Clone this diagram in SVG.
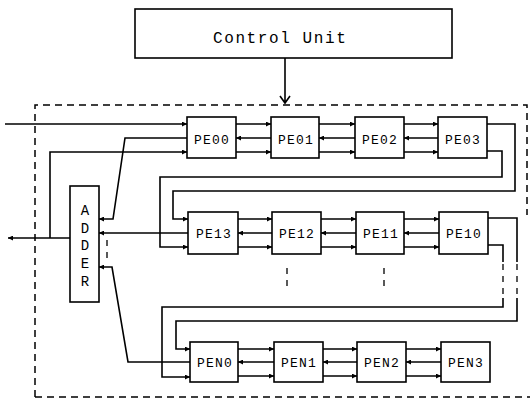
<svg xmlns="http://www.w3.org/2000/svg" width="530" height="400" viewBox="0 0 530 400">
<style>
.ln{stroke:#000;stroke-width:1.6;fill:none}
.box{fill:#fff;stroke:#000;stroke-width:1.6}
.dash{stroke:#000;stroke-width:1.5;fill:none;stroke-dasharray:7 5}
.dot{stroke:#000;stroke-width:1.3;fill:none;stroke-dasharray:6 6}
.lbl{font-family:"Liberation Mono",monospace;font-size:13px;letter-spacing:1.2px;text-anchor:middle;fill:#000}
.cu{font-family:"Liberation Mono",monospace;font-size:16px;letter-spacing:1.6px;fill:#000}
.add{font-family:"Liberation Mono",monospace;font-size:14px;text-anchor:middle;fill:#000}
</style>
<defs>
<marker id="ah" viewBox="0 0 6 6" refX="6" refY="3" markerWidth="6" markerHeight="5" markerUnits="userSpaceOnUse" orient="auto">
<path d="M0,0 L6,3 L0,6 z" fill="#000"/>
</marker>
</defs>
<rect width="530" height="400" fill="#fff"/>

<g id="boundary">
<path class="dash" d="M35,397 V105 H527 V215"/>
<path class="dash" d="M35,397 H530"/>
</g>

<g id="connectors">
<!-- control unit arrow -->
<path class="ln" d="M285,58 V103 M280,96 L285,103 L290,96"/>
<!-- row 1 external inputs -->
<path class="ln" marker-end="url(#ah)" d="M5,124 H187"/>
<path class="ln" marker-end="url(#ah)" d="M187,138 H125 L113,219 H99"/>
<path class="ln" marker-end="url(#ah)" d="M70,238 H8"/>
<path class="ln" marker-end="url(#ah)" d="M50,238 V152 H187"/>
<!-- row 1 links -->
<path class="ln" marker-end="url(#ah)" d="M236,124 H271"/>
<path class="ln" marker-end="url(#ah)" d="M271,138 H236"/>
<path class="ln" marker-end="url(#ah)" d="M236,152 H271"/>
<path class="ln" marker-end="url(#ah)" d="M319,124 H355"/>
<path class="ln" marker-end="url(#ah)" d="M355,138 H319"/>
<path class="ln" marker-end="url(#ah)" d="M319,152 H355"/>
<path class="ln" marker-end="url(#ah)" d="M404,124 H438"/>
<path class="ln" marker-end="url(#ah)" d="M438,138 H404"/>
<path class="ln" marker-end="url(#ah)" d="M404,152 H438"/>
<!-- row 1 to row 2 loops -->
<path class="ln" marker-end="url(#ah)" d="M487,124 H515 V191 H173 V219 H188"/>
<path class="ln" marker-end="url(#ah)" d="M487,151 H502 V177 H160 V247 H188"/>
<!-- row 2 adder link -->
<path class="ln" marker-end="url(#ah)" d="M188,233 H99"/>
<!-- row 2 links -->
<path class="ln" marker-end="url(#ah)" d="M238,219 H272"/>
<path class="ln" marker-end="url(#ah)" d="M272,233 H238"/>
<path class="ln" marker-end="url(#ah)" d="M238,247 H272"/>
<path class="ln" marker-end="url(#ah)" d="M321,219 H356"/>
<path class="ln" marker-end="url(#ah)" d="M356,233 H321"/>
<path class="ln" marker-end="url(#ah)" d="M321,247 H356"/>
<path class="ln" marker-end="url(#ah)" d="M404,219 H439"/>
<path class="ln" marker-end="url(#ah)" d="M439,233 H404"/>
<path class="ln" marker-end="url(#ah)" d="M404,247 H439"/>
<!-- row 2 to row N loops -->
<path class="ln" d="M488,218 H517 V262"/>
<path class="dot" d="M517,264 V298"/>
<path class="ln" marker-end="url(#ah)" d="M517,298 V321 H176 V349 H190"/>
<path class="ln" d="M488,245 H503 V262"/>
<path class="dot" d="M503,264 V298"/>
<path class="ln" marker-end="url(#ah)" d="M503,298 V307 H162 V377 H190"/>
<!-- omitted rows -->
<path class="dot" d="M107,240 V264"/>
<path class="dot" d="M287,268 V292"/>
<path class="dot" d="M384,268 V292"/>
<!-- row N adder link -->
<path class="ln" marker-end="url(#ah)" d="M190,362 H128 L112,267 H99"/>
<!-- row N links -->
<path class="ln" marker-end="url(#ah)" d="M238,349 H274"/>
<path class="ln" marker-end="url(#ah)" d="M274,362 H238"/>
<path class="ln" marker-end="url(#ah)" d="M238,376 H274"/>
<path class="ln" marker-end="url(#ah)" d="M323,349 H357"/>
<path class="ln" marker-end="url(#ah)" d="M357,362 H323"/>
<path class="ln" marker-end="url(#ah)" d="M323,376 H357"/>
<path class="ln" marker-end="url(#ah)" d="M406,349 H441"/>
<path class="ln" marker-end="url(#ah)" d="M441,362 H406"/>
<path class="ln" marker-end="url(#ah)" d="M406,376 H441"/>
</g>

<g id="control-unit">
<rect class="box" x="135" y="9" width="317" height="49"/>
<text class="cu" x="213" y="43">Control Unit</text>
</g>

<g id="adder">
<rect class="box" x="70" y="186" width="29" height="116"/>
<text class="add" x="85" y="215">A</text>
<text class="add" x="85" y="233">D</text>
<text class="add" x="85" y="250">D</text>
<text class="add" x="85" y="268">E</text>
<text class="add" x="85" y="286">R</text>
</g>

<g id="pe00"><rect class="box" x="187" y="117" width="49" height="41"/><text class="lbl" x="212" y="144">PE00</text></g>
<g id="pe01"><rect class="box" x="271" y="117" width="48" height="41"/><text class="lbl" x="296" y="144">PE01</text></g>
<g id="pe02"><rect class="box" x="355" y="117" width="49" height="41"/><text class="lbl" x="380" y="144">PE02</text></g>
<g id="pe03"><rect class="box" x="438" y="117" width="49" height="41"/><text class="lbl" x="463" y="144">PE03</text></g>

<g id="pe13"><rect class="box" x="188" y="212" width="50" height="42"/><text class="lbl" x="214" y="238">PE13</text></g>
<g id="pe12"><rect class="box" x="272" y="212" width="49" height="42"/><text class="lbl" x="297" y="238">PE12</text></g>
<g id="pe11"><rect class="box" x="356" y="212" width="48" height="42"/><text class="lbl" x="381" y="238">PE11</text></g>
<g id="pe10"><rect class="box" x="439" y="212" width="49" height="42"/><text class="lbl" x="464" y="238">PE10</text></g>

<g id="pen0"><rect class="box" x="190" y="342" width="48" height="40"/><text class="lbl" x="215" y="367">PEN0</text></g>
<g id="pen1"><rect class="box" x="274" y="342" width="49" height="40"/><text class="lbl" x="299" y="367">PEN1</text></g>
<g id="pen2"><rect class="box" x="357" y="342" width="49" height="40"/><text class="lbl" x="382" y="367">PEN2</text></g>
<g id="pen3"><rect class="box" x="441" y="342" width="49" height="40"/><text class="lbl" x="466" y="367">PEN3</text></g>
</svg>
